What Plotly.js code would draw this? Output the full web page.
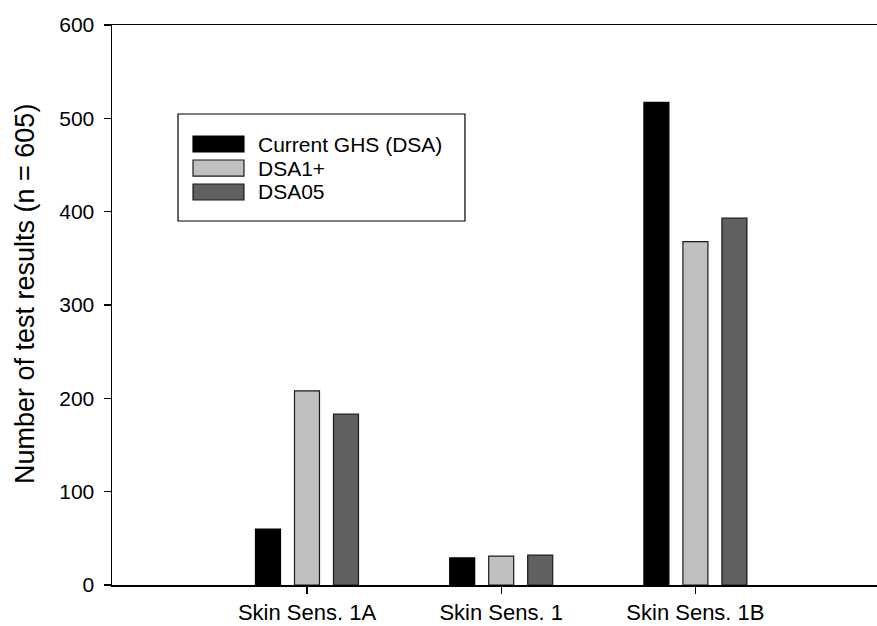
<!DOCTYPE html>
<html>
<head>
<meta charset="utf-8">
<script src="https://cdn.plot.ly/plotly-3.0.1.min.js"></script>
<style>html,body{margin:0;padding:0;background:#fff;}#chart{width:877px;height:626px;}</style>
</head>
<body>
<div id="chart"></div>
<script>
var categories = ["Skin Sens. 1A", "Skin Sens. 1", "Skin Sens. 1B"];
var seriesNames = ["Current GHS (DSA)", "DSA1+", "DSA05"];
var currentGHS = [60, 29, 517];
var dsa1plus = [208, 31, 368];
var dsa05 = [183, 32, 393];
var yTickVals = [0, 100, 200, 300, 400, 500, 600];
var yTitle = "Number of test results (n = 605)";

var fills = ["#000000", "#c0c0c0", "#606060"];
var outlines = ["#000000", "#1a1a1a", "#1a1a1a"];
var seriesValues = [currentGHS, dsa1plus, dsa05];

var font = "Liberation Sans, Arial, sans-serif";

var traces = seriesValues.map(function (vals, i) {
  return {
    type: "bar",
    name: seriesNames[i],
    x: [0, 1, 2],
    y: vals,
    marker: { color: fills[i], line: { color: outlines[i], width: 1.2 } },
    hoverinfo: "skip"
  };
});

// manual legend (wide swatches like the reference)
var shapes = [{
  type: "rect", xref: "paper", yref: "paper",
  x0: 0.0863, x1: 0.4614, y0: 0.650, y1: 0.8411,
  line: { color: "#000000", width: 1.2 }, fillcolor: "rgba(0,0,0,0)"
}];
var annotations = [];
var rowY = [0.7875, 0.7446, 0.7018];
for (var i = 0; i < seriesNames.length; i++) {
  shapes.push({
    type: "rect", xref: "paper", yref: "paper",
    x0: 0.1059, x1: 0.1725, y0: rowY[i] - 0.0143, y1: rowY[i] + 0.0143,
    line: { color: outlines[i], width: 1.2 }, fillcolor: fills[i]
  });
  annotations.push({
    xref: "paper", yref: "paper", x: 0.1882, y: rowY[i],
    xanchor: "left", yanchor: "middle", showarrow: false,
    text: seriesNames[i], font: { family: font, size: 21, color: "#000000" }
  });
}
// y-axis title as rotated text
annotations.push({
  xref: "paper", yref: "paper", x: -0.1137, y: 0.5196,
  xanchor: "center", yanchor: "middle", showarrow: false, textangle: -90,
  text: yTitle, font: { family: font, size: 27, color: "#000000" }
});

var layout = {
  width: 877, height: 626,
  margin: { l: 112, r: 0, t: 25, b: 41, pad: 0 },
  paper_bgcolor: "#ffffff", plot_bgcolor: "#ffffff",
  showlegend: false,
  barmode: "group",
  bargap: 0.3975,
  bargroupgap: 0.359,
  font: { family: font, color: "#000000" },
  xaxis: {
    range: [-1.004, 2.935],
    tickmode: "array", tickvals: [0, 1, 2], ticktext: categories,
    ticks: "outside", ticklen: 7, tickwidth: 1.2, tickcolor: "#000000",
    showline: true, linecolor: "#000000", linewidth: 1.5, mirror: true,
    showgrid: false, zeroline: false,
    tickfont: { family: font, size: 22, color: "#000000" },
    ticklabelstandoff: 0,
    automargin: false, fixedrange: true
  },
  yaxis: {
    range: [0, 600],
    tickmode: "array", tickvals: yTickVals,
    ticks: "outside", ticklen: 7, tickwidth: 1.2, tickcolor: "#000000",
    showline: true, linecolor: "#000000", linewidth: 1.5,
    showgrid: false, zeroline: false,
    tickfont: { family: font, size: 21, color: "#000000" },
    ticklabelstandoff: 5,
    automargin: false, fixedrange: true
  },
  shapes: shapes,
  annotations: annotations
};

Plotly.newPlot("chart", traces, layout, { displayModeBar: false, staticPlot: true });
</script>
</body>
</html>
